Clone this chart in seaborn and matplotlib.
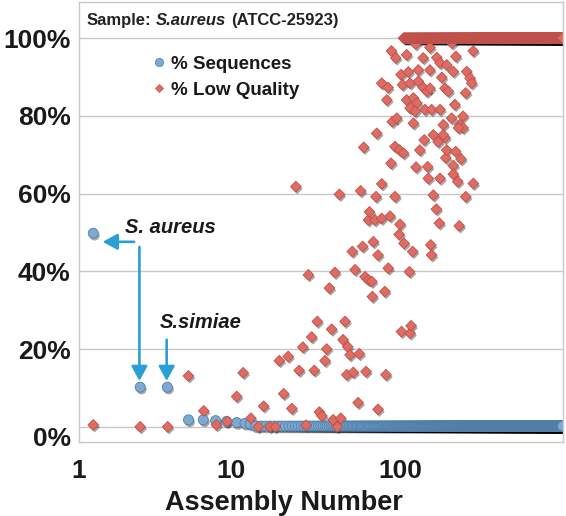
import numpy as np
import pandas as pd
import matplotlib
matplotlib.use("Agg")
import matplotlib.pyplot as plt
import matplotlib.patheffects as pe
from matplotlib.lines import Line2D
from matplotlib.ticker import FixedLocator, FuncFormatter, NullLocator
from matplotlib.transforms import ScaledTranslation
import seaborn as sns

# % of sequences per assembly, first assemblies
seq_x = [1.53, 2.9, 4.2, 5.6, 6.85, 8.1, 9.4, 10.8, 12.1, 13.0]
seq_pct = [49.8, 10.2, 10.2, 1.8, 1.8, 1.6, 1.4, 1.1, 0.9, 0.7]
# long tail of assemblies with (almost) no sequences
seq_tail_first, seq_tail_last, seq_tail_pct = 14, 915, 0.2

# % low quality, scattered assemblies
lq_x = [
    # 0-50 %
    1.53, 2.9, 4.22, 5.6, 6.9, 8.2, 9.5, 10.8, 11.8, 13.1,
    14.5, 15.6, 17.0, 18.3, 19.3, 20.5, 21.8, 22.9, 25.3, 26.6,
    27.8, 28.7, 30.0, 31.1, 32.4, 33.3, 34.5, 36.0, 36.8, 38.2,
    39.4, 40.2, 41.2, 42.5, 44.6, 46.0, 47.3, 48.4, 49.0, 50.6,
    52.2, 52.9, 54.2, 56.5, 57.4, 60.1, 62.1, 62.9, 65.0, 68.0,
    68.6, 69.5, 74.1, 74.1, 81.3, 82.6, 85.2, 102, 113.7, 114.7,
    116.3,
    # 45-75 %
    24.2, 43.8, 58.5, 61.0, 65.0, 66.0, 71.1, 72.1, 72.8, 78.0,
    77.9, 87.3, 88.5, 93.4, 93.4, 98.8, 100, 99.5, 104.8, 105.6,
    118.7, 124.4, 131, 139, 145.8, 147, 152, 153.8, 157.5, 164,
    168, 170.8, 172.5, 184.6, 186.7, 189, 206.7, 206.7, 213.6, 219.5,
    224, 229.6, 244.8, 271.5,
    # 75-100 %
    89.0, 94.4, 109.5, 123.8, 137, 150.3, 165, 172.5, 189, 203,
    214, 271, 101.4, 112, 128.3, 150.3, 176.6, 206.7, 248, 259.6,
    265.6, 77.9, 84.9, 103.4, 114.7, 128.3, 137, 144.3, 150.3, 184.6,
    193, 244.8, 83.6, 109.5, 120, 125.8, 114.7, 122.8, 140.5, 153.8,
    172.5, 211, 236, 120, 90.0, 95.6, 180.3, 202, 226, 236,
    157.5, 180, 222,
]
lq_pct = [
    0.5, 0, 0, 13.1, 4.1, 0.5, 1.4, 7.8, 13.9, 2.2,
    0, 5.3, 0, 0, 17.0, 8.5, 18.1, 4.7, 14.5, 20.5,
    0.4, 39.1, 23.1, 14.5, 27.1, 3.8, 2.8, 17.0, 20.0, 35.7,
    25.1, 1.8, 39.7, 0, 2.2, 22.4, 27.1, 13.4, 20.6, 18.5,
    45.1, 14.0, 40.4, 6.2, 18.8, 46.4, 38.6, 14.2, 37.8, 37.4,
    33.5, 47.6, 44.2, 4.5, 34.8, 13.4, 40.8, 24.5, 39.9, 24.1,
    26.0,
    61.8, 59.8, 60.7, 71.9, 53.2, 55.3, 53.2, 59.2, 75.5, 62.5,
    53.6, 54.2, 67.8, 59.2, 72.1, 49.5, 52.1, 71.2, 70.4, 47.2,
    45.1, 66.8, 71.2, 73.8, 66.9, 63.9, 46.8, 44.2, 59.6, 56.0,
    73.3, 52.4, 63.9, 74.4, 69.2, 71.2, 67.2, 65.0, 70.8, 63.1,
    51.7, 68.9, 59.2, 62.6,
    96.7, 94.9, 95.7, 98.5, 94.9, 97.6, 95.0, 93.6, 93.1, 98.7,
    95.3, 96.7, 90.6, 91.3, 91.8, 91.8, 89.9, 91.4, 91.4, 89.7,
    88.4, 88.4, 87.3, 88.0, 88.4, 88.9, 87.3, 86.3, 87.1, 87.1,
    86.3, 85.9, 84.1, 84.1, 84.6, 83.3, 82.0, 81.2, 81.6, 81.6,
    81.6, 82.9, 79.9, 78.1, 78.5, 79.4, 77.7, 79.4, 77.7, 76.9,
    75.1, 75.1, 76.9,
]
# assemblies that are entirely low quality
lq_tail_first, lq_tail_last, lq_tail_pct = 105, 915, 100.0

series_names = ["% Sequences", "% Low Quality"]
fill = {"% Sequences": "#7eaad2", "% Low Quality": "#df6c62"}
edge = {"% Sequences": "#4f7fa9", "% Low Quality": "#c0504a"}
arrow_blue = "#2a9fd6"
ink = "#1a1a1a"

seq_tail = np.arange(seq_tail_first, seq_tail_last + 1)
lq_tail = np.arange(lq_tail_first, lq_tail_last + 1)

# blue first so the red diamonds sit on top, as in the original
df = pd.concat([
    pd.DataFrame({"assembly": seq_x, "pct": seq_pct, "series": series_names[0]}),
    pd.DataFrame({"assembly": seq_tail, "pct": seq_tail_pct, "series": series_names[0]}),
    pd.DataFrame({"assembly": lq_x, "pct": lq_pct, "series": series_names[1]}),
    pd.DataFrame({"assembly": lq_tail, "pct": lq_tail_pct, "series": series_names[1]}),
], ignore_index=True)

sns.set_style("white")
plt.rcParams["font.family"] = ["Liberation Sans", "DejaVu Sans"]
plt.rcParams["font.weight"] = "bold"

fig = plt.figure(figsize=(5.66, 5.16), dpi=100)
ax = fig.add_axes([79 / 566, 1 - 442 / 516, 484 / 566, 440 / 516])

sns.scatterplot(
    data=df, x="assembly", y="pct", hue="series", style="series", size="series",
    palette=fill, markers={"% Sequences": "o", "% Low Quality": "D"},
    sizes={"% Sequences": 52, "% Low Quality": 30},
    linewidth=0.6, legend=False, ax=ax,
)
pts = ax.collections[0]
pts.set_edgecolors([edge[s] for s in df["series"]])
pts.set_path_effects([
    pe.SimplePatchShadow(offset=(1.0, -1.6), shadow_rgbFace="black", alpha=0.35),
    pe.Normal(),
])

ax.set_xscale("log")
# the original axis starts a little right of 1 but still labels its edge "1"
ax.set_xlim(1.26, 921)
ax.set_ylim(-3.9, 109.3)
ax.xaxis.set_major_locator(FixedLocator([1.26, 10, 100]))
ax.xaxis.set_major_formatter(FuncFormatter(lambda v, _: "1" if v < 2 else f"{v:.0f}"))
ax.xaxis.set_minor_locator(NullLocator())
ax.yaxis.set_major_locator(FixedLocator([0, 20, 40, 60, 80, 100]))
ax.yaxis.set_major_formatter(FuncFormatter(lambda v, _: f"{v:.0f}%"))

ax.tick_params(axis="x", direction="out", length=4.5, width=1.2, color="#444444",
               pad=8, labelsize=19, labelcolor=ink)
ax.tick_params(axis="y", length=0, pad=6, labelsize=19, labelcolor=ink)
ax.grid(axis="y", color="#c8c8c8", linewidth=1.0)
ax.grid(axis="x", visible=False)
for sp in ax.spines.values():
    sp.set_color("#c8c8c8")
    sp.set_linewidth(1.0)

# the 0% label sits a bit below its gridline in the original
zero_lab = ax.yaxis.get_major_ticks()[0].label1
zero_lab.set_transform(zero_lab.get_transform() + ScaledTranslation(0, -10 / 100, fig.dpi_scale_trans))

ax.set_xlabel("Assembly Number", fontsize=19.5, fontweight="bold", color=ink)
ax.xaxis.set_label_coords(0.424, -0.108)
ax.set_ylabel("")

# header: Sample: S.aureus (ATCC-25923)
t1 = ax.text(0.0165, 0.959, "Sample:", transform=ax.transAxes, fontsize=12,
             fontweight="bold", va="center", ha="left", color="#222222")
t2 = ax.annotate("S.aureus", xy=(1, 0), xycoords=t1, xytext=(3.3, 0),
                 textcoords="offset points", va="bottom", ha="left", fontsize=12,
                 fontweight="bold", fontstyle="italic", color="#222222")
ax.annotate("(ATCC-25923)", xy=(1, 0), xycoords=t2, xytext=(3.3, 0),
            textcoords="offset points", va="bottom", ha="left", fontsize=12,
            fontweight="bold", color="#222222")

handles = [
    Line2D([], [], ls="none", marker="o", ms=6, mfc=fill[series_names[0]], mec=edge[series_names[0]], mew=0.5),
    Line2D([], [], ls="none", marker="D", ms=4.5, mfc=fill[series_names[1]], mec=edge[series_names[1]], mew=0.5),
]
ax.legend(handles, series_names, loc="upper left", bbox_to_anchor=(0.154, 0.878),
          frameon=False, prop={"size": 13.5, "weight": "bold"}, handlelength=0.6,
          handletextpad=0.35, labelspacing=0.47, borderpad=0, borderaxespad=0,
          labelcolor=ink)

# call-outs
arrow_kw = dict(arrowstyle="-|>,head_length=0.55,head_width=0.3", color=arrow_blue,
                lw=1.9, mutation_scale=16, shrinkA=0, shrinkB=0)
ax.annotate("", xy=(1.74, 47.6), xytext=(2.67, 47.6), arrowprops=arrow_kw)
ax.annotate("", xy=(2.87, 11.8), xytext=(2.87, 46.3), arrowprops=arrow_kw)
ax.annotate("", xy=(4.16, 11.8), xytext=(4.16, 22.4), arrowprops=arrow_kw)
ax.text(2.36, 51.4, "S. aureus", ha="left", va="center", fontsize=14.5,
        fontweight="bold", fontstyle="italic", color=ink)
ax.text(3.80, 26.8, "S.simiae", ha="left", va="center", fontsize=14.5,
        fontweight="bold", fontstyle="italic", color=ink)

fig.savefig("out.png", dpi=100)
